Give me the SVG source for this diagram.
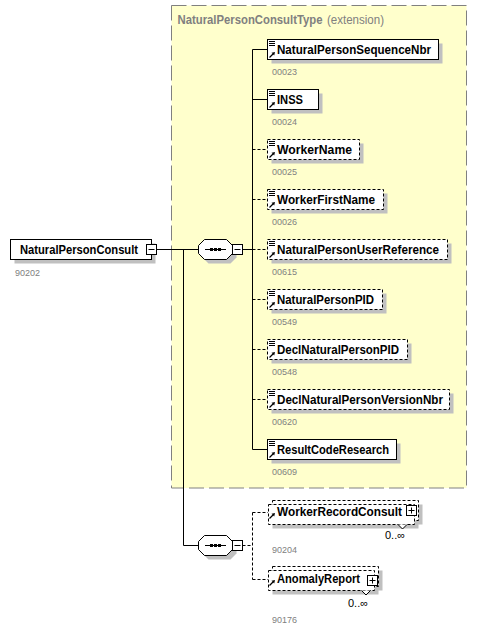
<svg xmlns="http://www.w3.org/2000/svg" xmlns:xlink="http://www.w3.org/1999/xlink" width="485" height="632" viewBox="0 0 485 632">
<style>
.sh{fill:#C0C0C0;stroke:none}
.box{fill:#fff;stroke:#000;stroke-width:1}
.opt{stroke-dasharray:3,2}
.nm{font-family:"Liberation Sans",Arial,sans-serif;font-weight:bold;font-size:12px;fill:#000}
.id{font-family:"Liberation Sans",Arial,sans-serif;font-size:9px;fill:#808080}
.occ{font-family:"Liberation Sans",Arial,sans-serif;font-size:11px;fill:#000}
.ln{stroke:#000;stroke-width:1;fill:none}
.dl{stroke-dasharray:3,2}
.btn{fill:#fff;stroke:#000;stroke-width:1}
.ext{fill:#FFFFCC;stroke:#808080;stroke-width:1;stroke-dasharray:15,5}
.hdr{font-family:"Liberation Sans",Arial,sans-serif;font-size:12px;fill:#808080}
</style>
<defs>
<g id="lines"><path d="M2,2.5h6M2,4.5h6M2,6.5h6" stroke="#000" stroke-width="1"/></g>
<g id="arrow"><path d="M2.5,18.5L6,15" stroke="#000" stroke-width="1.2"/><polygon points="8,13 4.5,13.8 7.2,16.5" fill="#000"/></g>
<polygon id="oct" points="204.5,239.5 226.5,239.5 232.5,245.5 232.5,253.5 226.5,259.5 204.5,259.5 198.5,253.5 198.5,245.5"/>
</defs>

<g id="extension">
<rect class="ext" x="171.5" y="5.5" width="295" height="482.5"/>
<text class="hdr" x="177.5" y="24" font-weight="bold" textLength="145" lengthAdjust="spacingAndGlyphs">NaturalPersonConsultType</text>
<text class="hdr" x="327" y="24" textLength="57" lengthAdjust="spacingAndGlyphs">(extension)</text>
</g>

<g id="connectors">
<path class="ln" d="M156.5,249.5H198.5M183.5,249.5V545.5H198.5M242.5,249.5H252.5M252.5,49.5V449.5"/>
<path class="ln" d="M252.5,49.5H267.5M252.5,99.5H267.5M252.5,449.5H267.5"/>
<path class="ln dl" d="M252.5,149.5H267.5M252.5,199.5H267.5M252.5,249.5H267.5M252.5,299.5H267.5M252.5,349.5H267.5M252.5,399.5H267.5"/>
<path class="ln dl" d="M242.5,545.5H252.5M252.5,512.5V579.5M252.5,512.5H268M252.5,579.5H268"/>
</g>

<g id="NaturalPersonConsult">
<rect class="sh" x="14.5" y="243.5" width="141" height="20"/>
<rect class="box" x="10.5" y="239.5" width="141" height="20"/>
<text class="nm" x="20" y="254" textLength="118" lengthAdjust="spacingAndGlyphs">NaturalPersonConsult</text>
<rect class="btn" x="146.5" y="244.5" width="10" height="10"/>
<path class="ln" d="M148.5,249.5h6"/>
<text class="id" x="15" y="276">90202</text>
</g>

<g id="sequence1">
<use xlink:href="#oct" class="sh" transform="translate(4,4)"/>
<use xlink:href="#oct" class="box"/>
<path class="ln" d="M205,249.5H226"/>
<rect x="210" y="248" width="3" height="3" fill="#000"/>
<rect x="214" y="248" width="3" height="3" fill="#000"/>
<rect x="218" y="248" width="3" height="3" fill="#000"/>
<rect class="btn" x="232.5" y="244.5" width="10" height="10"/>
<path class="ln" d="M234.5,249.5h6"/>
</g>

<g id="NaturalPersonSequenceNbr">
<rect class="sh" x="271.5" y="43.5" width="171" height="20"/>
<rect class="box" x="267.5" y="39.5" width="171" height="20"/>
<use xlink:href="#lines" transform="translate(267,39)"/><use xlink:href="#arrow" transform="translate(267,39)"/>
<text class="nm" x="277" y="54" textLength="154" lengthAdjust="spacingAndGlyphs">NaturalPersonSequenceNbr</text>
<text class="id" x="272" y="75">00023</text>
</g>

<g id="INSS">
<rect class="sh" x="271.5" y="93.5" width="51" height="20"/>
<rect class="box" x="267.5" y="89.5" width="51" height="20"/>
<use xlink:href="#lines" transform="translate(267,89)"/><use xlink:href="#arrow" transform="translate(267,89)"/>
<text class="nm" x="277" y="104" textLength="26" lengthAdjust="spacingAndGlyphs">INSS</text>
<text class="id" x="272" y="125">00024</text>
</g>

<g id="WorkerName">
<rect class="sh" x="271.5" y="143.5" width="92" height="20"/>
<rect class="box opt" x="267.5" y="139.5" width="92" height="20"/>
<use xlink:href="#lines" transform="translate(267,139)"/><use xlink:href="#arrow" transform="translate(267,139)"/>
<text class="nm" x="277" y="154" textLength="75" lengthAdjust="spacingAndGlyphs">WorkerName</text>
<text class="id" x="272" y="175">00025</text>
</g>

<g id="WorkerFirstName">
<rect class="sh" x="271.5" y="193.5" width="116" height="20"/>
<rect class="box opt" x="267.5" y="189.5" width="116" height="20"/>
<use xlink:href="#lines" transform="translate(267,189)"/><use xlink:href="#arrow" transform="translate(267,189)"/>
<text class="nm" x="277" y="204" textLength="98" lengthAdjust="spacingAndGlyphs">WorkerFirstName</text>
<text class="id" x="272" y="225">00026</text>
</g>

<g id="NaturalPersonUserReference">
<rect class="sh" x="271.5" y="243.5" width="180" height="20"/>
<rect class="box opt" x="267.5" y="239.5" width="180" height="20"/>
<use xlink:href="#lines" transform="translate(267,239)"/><use xlink:href="#arrow" transform="translate(267,239)"/>
<text class="nm" x="277" y="254" textLength="162" lengthAdjust="spacingAndGlyphs">NaturalPersonUserReference</text>
<text class="id" x="272" y="275">00615</text>
</g>

<g id="NaturalPersonPID">
<rect class="sh" x="271.5" y="293.5" width="115" height="20"/>
<rect class="box opt" x="267.5" y="289.5" width="115" height="20"/>
<use xlink:href="#lines" transform="translate(267,289)"/><use xlink:href="#arrow" transform="translate(267,289)"/>
<text class="nm" x="277" y="304" textLength="97" lengthAdjust="spacingAndGlyphs">NaturalPersonPID</text>
<text class="id" x="272" y="325">00549</text>
</g>

<g id="DeclNaturalPersonPID">
<rect class="sh" x="271.5" y="343.5" width="140" height="20"/>
<rect class="box opt" x="267.5" y="339.5" width="140" height="20"/>
<use xlink:href="#lines" transform="translate(267,339)"/><use xlink:href="#arrow" transform="translate(267,339)"/>
<text class="nm" x="277" y="354" textLength="122" lengthAdjust="spacingAndGlyphs">DeclNaturalPersonPID</text>
<text class="id" x="272" y="375">00548</text>
</g>

<g id="DeclNaturalPersonVersionNbr">
<rect class="sh" x="271.5" y="393.5" width="182" height="20"/>
<rect class="box opt" x="267.5" y="389.5" width="182" height="20"/>
<use xlink:href="#lines" transform="translate(267,389)"/><use xlink:href="#arrow" transform="translate(267,389)"/>
<text class="nm" x="277" y="404" textLength="166" lengthAdjust="spacingAndGlyphs">DeclNaturalPersonVersionNbr</text>
<text class="id" x="272" y="425">00620</text>
</g>

<g id="ResultCodeResearch">
<rect class="sh" x="271.5" y="443.5" width="129" height="20"/>
<rect class="box" x="267.5" y="439.5" width="129" height="20"/>
<use xlink:href="#lines" transform="translate(267,439)"/><use xlink:href="#arrow" transform="translate(267,439)"/>
<text class="nm" x="277" y="454" textLength="112" lengthAdjust="spacingAndGlyphs">ResultCodeResearch</text>
<text class="id" x="272" y="475">00609</text>
</g>

<g id="sequence2">
<use xlink:href="#oct" class="sh" transform="translate(4,300)"/>
<use xlink:href="#oct" class="box" transform="translate(0,296)"/>
<path class="ln" d="M205,545.5H226"/>
<rect x="210" y="544" width="3" height="3" fill="#000"/>
<rect x="214" y="544" width="3" height="3" fill="#000"/>
<rect x="218" y="544" width="3" height="3" fill="#000"/>
<rect class="btn" x="232.5" y="540.5" width="10" height="10"/>
<path class="ln" d="M234.5,545.5h6"/>
</g>

<g id="WorkerRecordConsult">
<rect class="sh" x="276.5" y="504.5" width="146" height="20"/>
<rect class="sh" x="272.5" y="508.5" width="146" height="20"/>
<rect class="box opt" x="272.5" y="500.5" width="146" height="20"/>
<rect class="box opt" x="268.5" y="504.5" width="146" height="20"/>
<path d="M398,524.5L402.5,529L407,524.5" fill="#fff" stroke="#000" stroke-width="1"/>
<use xlink:href="#arrow" transform="translate(267,500)"/>
<text class="nm" x="277" y="516" textLength="125" lengthAdjust="spacingAndGlyphs">WorkerRecordConsult</text>
<rect class="btn" x="406.5" y="505.5" width="10" height="10"/>
<path class="ln" d="M408.5,510.5h6M411.5,507.5v6"/>
<text class="occ" x="385" y="538.5">0..∞</text>
<text class="id" x="272" y="553">90204</text>
</g>

<g id="AnomalyReport">
<rect class="sh" x="276.5" y="570.5" width="106" height="20"/>
<rect class="sh" x="272.5" y="574.5" width="106" height="20"/>
<rect class="box opt" x="272.5" y="566.5" width="106" height="20"/>
<rect class="box opt" x="268.5" y="570.5" width="106" height="20"/>
<path d="M361.5,590.5L366,595L370.5,590.5" fill="#fff" stroke="#000" stroke-width="1"/>
<use xlink:href="#arrow" transform="translate(267,567)"/>
<text class="nm" x="277" y="583" textLength="83" lengthAdjust="spacingAndGlyphs">AnomalyReport</text>
<rect class="btn" x="367.5" y="575.5" width="10" height="10"/>
<path class="ln" d="M369.5,580.5h6M372.5,577.5v6"/>
<text class="occ" x="348" y="607">0..∞</text>
<text class="id" x="272" y="623">90176</text>
</g>
</svg>
